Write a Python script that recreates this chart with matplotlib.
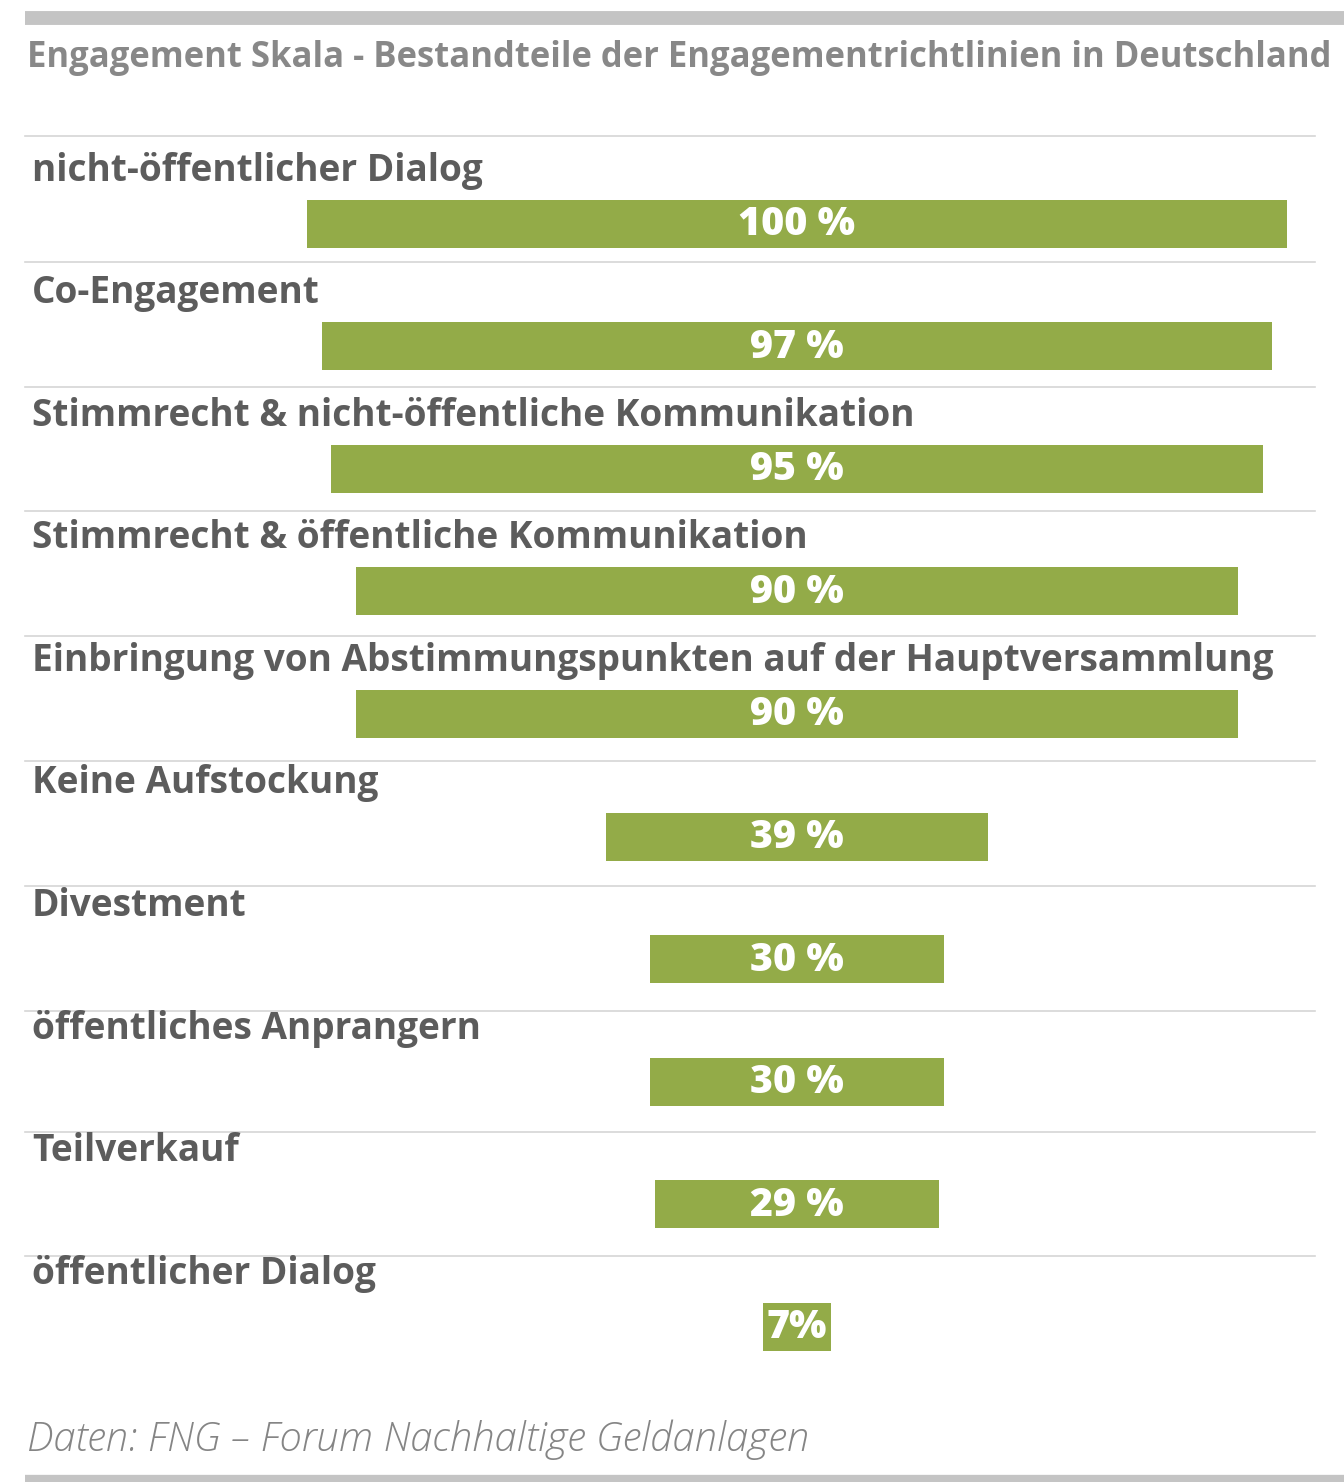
import matplotlib
matplotlib.use("Agg")
import matplotlib.pyplot as plt
from matplotlib.lines import Line2D

categories = [
    "nicht-öffentlicher Dialog",
    "Co-Engagement",
    "Stimmrecht & nicht-öffentliche Kommunikation",
    "Stimmrecht & öffentliche Kommunikation",
    "Einbringung von Abstimmungspunkten auf der Hauptversammlung",
    "Keine Aufstockung",
    "Divestment",
    "öffentliches Anprangern",
    "Teilverkauf",
    "öffentlicher Dialog",
]
values = [100, 97, 95, 90, 90, 39, 30, 30, 29, 7]
value_labels = ["100 %", "97 %", "95 %", "90 %", "90 %", "39 %", "30 %", "30 %", "29 %", "7%"]
title = "Engagement Skala - Bestandteile der Engagementrichtlinien in Deutschland"
source = "Daten: FNG – Forum Nachhaltige Geldanlagen"

W, H = 1344, 1482
fig = plt.figure(figsize=(W / 100, H / 100), dpi=100)
fig.patch.set_facecolor("white")
renderer = fig.canvas.get_renderer()

def fx(px):
    return px / W

def fy(py):
    return 1 - py / H

def fit_size(text, target_px, family, weight, style="normal", base=20):
    t = fig.text(0, 0, text, fontsize=base, family=family, fontweight=weight, style=style)
    w = t.get_window_extent(renderer).width
    t.remove()
    return base * target_px / w

BAR_COLOR = "#93ab48"
LABEL_COLOR = "#5c5c5c"
TITLE_COLOR = "#888888"
LINE_COLOR = "#d6d6d6"
FONT = "Open Sans"

ax = fig.add_axes([0, 0, 1, 1])
center_px = 797
px_per_pct = 9.8
ax.set_xlim(-center_px / px_per_pct, (W - center_px) / px_per_pct)
ax.set_ylim(H, 0)
ax.axis("off")

row0 = 223.5
row_step = 122.6
bar_h = 48
ys = [row0 + i * row_step for i in range(len(values))]

ax.barh(ys, values, left=[-v / 2 for v in values], height=bar_h, color=BAR_COLOR, zorder=2)

val_size = fit_size("100 %", 117, FONT, "heavy")
for y, lab in zip(ys, value_labels):
    ax.text(0, y + 1, lab, ha="center", va="center", color="white",
            fontsize=val_size, fontweight="heavy", family=FONT, zorder=3)

lab_size = fit_size(categories[4], 1241, FONT, "bold")
for y, cat in zip(ys, categories):
    fig.text(fx(32), fy(y - 53), cat, ha="left", va="center", color=LABEL_COLOR,
             fontsize=lab_size, fontweight="bold", family=FONT)

sep_y = [136, 262, 387, 511, 636, 761, 886, 1011, 1132, 1256]
for sy in sep_y:
    fig.add_artist(Line2D([fx(25), fx(1315)], [fy(sy), fy(sy)], color=LINE_COLOR, lw=1.2))

fig.add_artist(Line2D([fx(25), fx(1344)], [fy(18), fy(18)], color="#c4c4c4", lw=10, solid_capstyle="butt"))
fig.add_artist(Line2D([fx(25), fx(1344)], [fy(1479), fy(1479)], color="#c4c4c4", lw=6, solid_capstyle="butt"))

title_size = fit_size(title, 1303, FONT, "bold")
fig.text(fx(27), fy(58), title, ha="left", va="center", color=TITLE_COLOR,
         fontsize=title_size, fontweight="bold", family=FONT)

src_size = fit_size(source, 783, FONT, "light", style="italic")
fig.text(fx(27), fy(1440), source, ha="left", va="center", color="#858585",
         fontsize=src_size, fontweight="light", style="italic", family=FONT)

fig.savefig("out.png", dpi=100, facecolor="white")
